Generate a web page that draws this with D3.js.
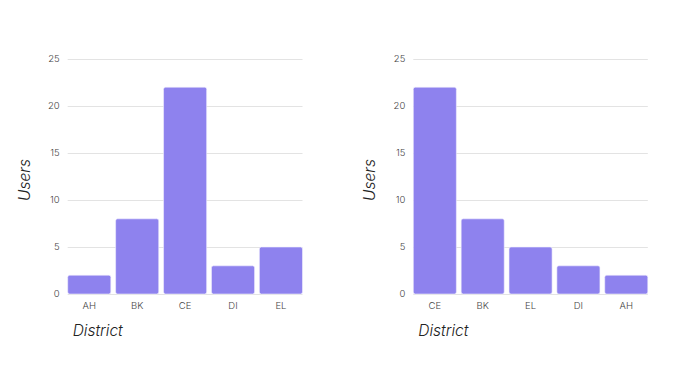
<!DOCTYPE html>
<html>
<head>
<script src="https://d3js.org/d3.v7.min.js"></script>
<style>
  body { margin: 0; background: #fff; }
  text { font-family: Inter, "Open Sans", sans-serif; }
</style>
</head>
<body>
<div id="chart"></div>
<script>
// data
var districts = ["AH", "BK", "CE", "DI", "EL"];
var users = [2, 8, 22, 3, 5];
var sortedDistricts = ["CE", "BK", "EL", "DI", "AH"];
var sortedUsers = [22, 8, 5, 3, 2];
var yTicks = [0, 5, 10, 15, 20, 25];

var width = 678, height = 379;
var svg = d3.select("#chart").append("svg")
    .attr("width", width)
    .attr("height", height);

function drawBars(left, right, cats, vals) {
  var top = 59, bottom = 294;
  var x = d3.scaleBand().domain(cats).range([left, right]).paddingInner(0.1).paddingOuter(0);
  var y = d3.scaleLinear().domain([0, 25]).range([bottom, top]);
  var g = svg.append("g");

  // grid
  g.selectAll(".grid").data(yTicks).enter().append("line")
    .attr("x1", left).attr("x2", right)
    .attr("y1", function(d) { return y(d) + 0.5; })
    .attr("y2", function(d) { return y(d) + 0.5; })
    .style("stroke", "#e3e3e3");

  // y tick labels
  g.selectAll(".ylab").data(yTicks).enter().append("text")
    .attr("x", left - 8)
    .attr("y", function(d) { return y(d); })
    .attr("dy", "0.35em")
    .attr("text-anchor", "end")
    .style("font-size", "9.5px")
    .style("font-weight", 300)
    .style("fill", "#444")
    .text(function(d) { return d; });

  // bars
  var data = cats.map(function(c, i) { return {c: c, v: vals[i]}; });
  g.selectAll(".bar").data(data).enter().append("rect")
    .attr("x", function(d) { return x(d.c); })
    .attr("y", function(d) { return y(d.v); })
    .attr("width", x.bandwidth())
    .attr("height", function(d) { return bottom - y(d.v); })
    .attr("rx", 2)
    .style("fill", "#8e82ee")
    .style("stroke", "#f2f0fd")
    .style("stroke-width", 0.6);

  // x tick labels
  g.selectAll(".xlab").data(cats).enter().append("text")
    .attr("x", function(d) { return x(d) + x.bandwidth() / 2; })
    .attr("y", 309)
    .attr("text-anchor", "middle")
    .style("font-size", "9.5px")
    .style("font-weight", 300)
    .style("fill", "#444")
    .text(function(d) { return d; });

  // axis titles
  g.append("text")
    .attr("x", left + 5)
    .attr("y", 336)
    .style("font-size", "15.5px")
    .style("font-style", "italic")
    .style("font-weight", 300)
    .style("fill", "#222")
    .text("District");

  g.append("text")
    .attr("transform", "translate(" + (left - 38) + "," + 180 + ") rotate(-90)")
    .attr("text-anchor", "middle")
    .style("font-size", "15.5px")
    .style("font-style", "italic")
    .style("font-weight", 300)
    .style("fill", "#222")
    .text("Users");
}

drawBars(67.7, 302.5, districts, users);
drawBars(413.3, 647.8, sortedDistricts, sortedUsers);
</script>
</body>
</html>
